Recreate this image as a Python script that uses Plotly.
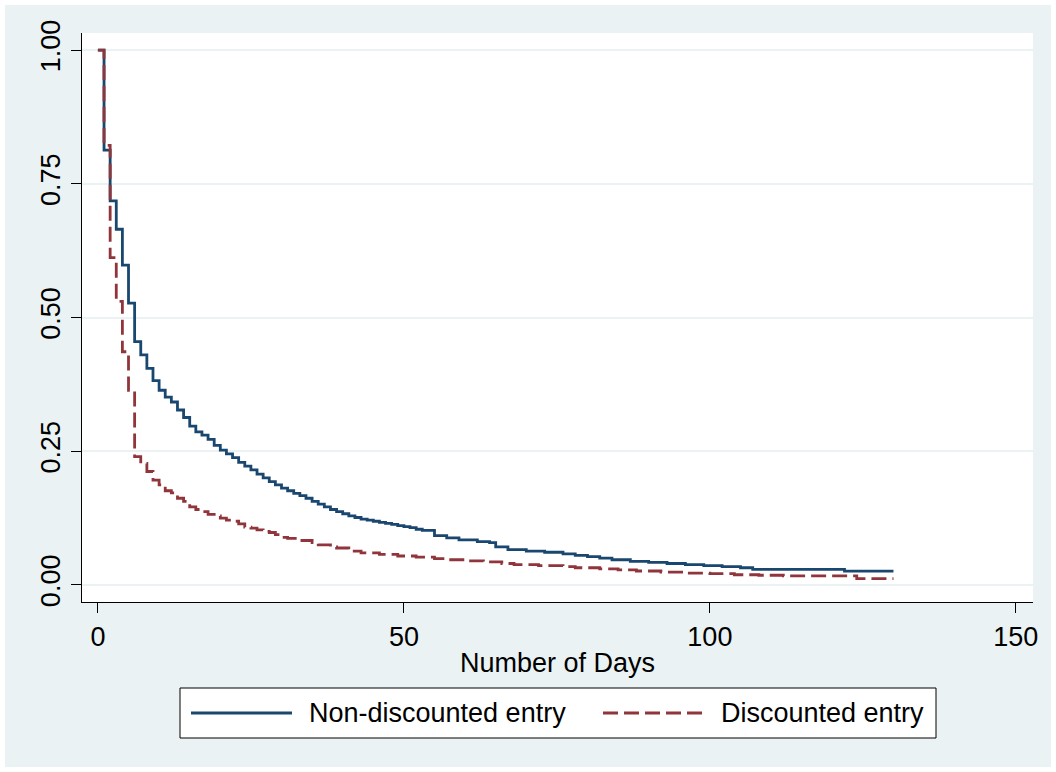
import plotly.graph_objects as go

# ---- data ----
days_nondisc = [0, 1, 2, 3, 4, 5, 6, 7, 8, 9, 10, 11, 12, 13, 14, 15, 16, 17, 18, 19, 20,
                21, 22, 23, 24, 25, 26, 27, 28, 29, 30, 31, 32, 33, 34, 35, 36, 37, 38, 39, 40,
                41, 42, 43, 44, 45, 46, 47, 48, 49, 50, 51, 52, 53, 55, 57, 59, 62, 64, 65, 67,
                70, 73, 76, 78, 80, 82, 84, 87, 90, 93, 96, 99, 102, 105, 107, 122, 130]
surv_nondisc = [1.0, 0.813, 0.718, 0.665, 0.598, 0.527, 0.455, 0.430, 0.405, 0.382, 0.364,
                0.351, 0.342, 0.327, 0.313, 0.297, 0.286, 0.280, 0.272, 0.261, 0.252,
                0.245, 0.238, 0.229, 0.222, 0.215, 0.207, 0.200, 0.193, 0.187, 0.181,
                0.176, 0.171, 0.167, 0.162, 0.156, 0.151, 0.146, 0.141, 0.137, 0.133,
                0.129, 0.126, 0.123, 0.121, 0.119, 0.117, 0.115, 0.113, 0.111, 0.109,
                0.107, 0.104, 0.102, 0.092, 0.088, 0.084, 0.081, 0.079, 0.071, 0.066,
                0.063, 0.061, 0.058, 0.055, 0.053, 0.050, 0.047, 0.044, 0.042, 0.040,
                0.038, 0.036, 0.034, 0.032, 0.029, 0.0256, 0.0256]

days_disc = [0, 1, 2, 3, 4, 5, 6, 7, 8, 9, 10, 11, 12, 13, 14, 15, 16, 17, 18, 19, 20,
             21, 22, 23, 24, 25, 26, 27, 28, 29, 30, 31, 33, 35, 36, 38, 39, 41, 43, 46, 49,
             52, 55, 57, 60, 63, 66, 68, 72, 76, 78, 82, 85, 88, 92, 96, 100, 104, 108, 112,
             124, 130]
surv_disc = [1.0, 0.822, 0.612, 0.530, 0.436, 0.364, 0.240, 0.227, 0.212, 0.196, 0.187,
             0.176, 0.172, 0.162, 0.156, 0.146, 0.141, 0.137, 0.132, 0.129, 0.125,
             0.121, 0.119, 0.114, 0.108, 0.106, 0.103, 0.100, 0.098, 0.094, 0.089,
             0.087, 0.083, 0.079, 0.075, 0.071, 0.069, 0.063, 0.060, 0.057, 0.054,
             0.052, 0.049, 0.047, 0.045, 0.043, 0.040, 0.038, 0.036, 0.034, 0.032,
             0.030, 0.028, 0.026, 0.024, 0.022, 0.021, 0.019, 0.018, 0.0168,
             0.0118, 0.0118]

series_names = ["Non-discounted entry", "Discounted entry"]
x_ticks = [0, 50, 100, 150]
y_ticks = [0, 0.25, 0.5, 0.75, 1.0]
y_ticklabels = ["0.00", "0.25", "0.50", "0.75", "1.00"]
x_title = "Number of Days"

# ---- style ----
BG = "#EAF2F3"
BLUE = "#1a476f"
RED = "#90353b"
FONT = "Liberation Sans, Arial, sans-serif"
FS = 27
DASH = "15px,6px"
LW = 2.8
W, H = 1056, 772
L, R, T, B = 82, 1033, 33, 602  # plot-area pixel box

fig = go.Figure()
fig.add_trace(go.Scatter(x=days_nondisc, y=surv_nondisc, mode="lines", line_shape="hv",
                         name=series_names[0], line=dict(color=BLUE, width=LW)))
fig.add_trace(go.Scatter(x=days_disc, y=surv_disc, mode="lines", line_shape="hv",
                         name=series_names[1], line=dict(color=RED, width=LW, dash=DASH)))


def px_x(p):
    return (p - L) / (R - L)


def px_y(p):
    return (B - p) / (B - T)


shapes = []
# white outer frame around the light-blue background
for (x0, y0, x1, y1) in [(0, 0, W, 5), (0, H - 5, W, H), (0, 0, 5, H), (W - 5, 0, W, H)]:
    shapes.append(dict(type="rect", xref="paper", yref="paper",
                       x0=px_x(x0), x1=px_x(x1), y0=px_y(y0), y1=px_y(y1),
                       fillcolor="white", line=dict(width=0), layer="above"))

# legend box (drawn by hand to match the reference spacing)
shapes.append(dict(type="rect", xref="paper", yref="paper",
                   x0=px_x(180), x1=px_x(936), y0=px_y(738), y1=px_y(688),
                   fillcolor="white", line=dict(color="black", width=1), layer="above"))
shapes.append(dict(type="line", xref="paper", yref="paper",
                   x0=px_x(191), x1=px_x(292), y0=px_y(713), y1=px_y(713),
                   line=dict(color=BLUE, width=LW), layer="above"))
shapes.append(dict(type="line", xref="paper", yref="paper",
                   x0=px_x(603), x1=px_x(703), y0=px_y(713), y1=px_y(713),
                   line=dict(color=RED, width=LW, dash=DASH), layer="above"))
annotations = [
    dict(text=series_names[0], xref="paper", yref="paper", x=px_x(307), y=px_y(713),
         xanchor="left", yanchor="middle", showarrow=False, font=dict(size=FS)),
    dict(text=series_names[1], xref="paper", yref="paper", x=px_x(719), y=px_y(713),
         xanchor="left", yanchor="middle", showarrow=False, font=dict(size=FS)),
]

fig.update_layout(
    width=W, height=H,
    margin=dict(l=L, r=W - R, t=T, b=H - B),
    paper_bgcolor=BG, plot_bgcolor="white",
    font=dict(family=FONT, size=FS, color="black"),
    shapes=shapes, annotations=annotations,
    showlegend=False,
    xaxis=dict(range=[-2.6, 152.8], tickvals=x_ticks, showgrid=False, zeroline=False,
               showline=True, linecolor="black", linewidth=1.2, ticks="outside",
               ticklen=10, tickcolor="black", tickwidth=1.2,
               title=dict(text=x_title, standoff=2, font=dict(size=FS))),
    yaxis=dict(range=[-0.032, 1.032], tickvals=y_ticks, ticktext=y_ticklabels,
               tickangle=-90, showgrid=True, gridcolor=BG, gridwidth=2, zeroline=False,
               showline=True, linecolor="black", linewidth=1.2, ticks="outside",
               ticklen=10, tickcolor="black", tickwidth=1.2),
)

fig.write_html("out.html", config={"displayModeBar": False},
               post_script="document.body.style.margin='0';document.body.style.overflow='hidden';")
